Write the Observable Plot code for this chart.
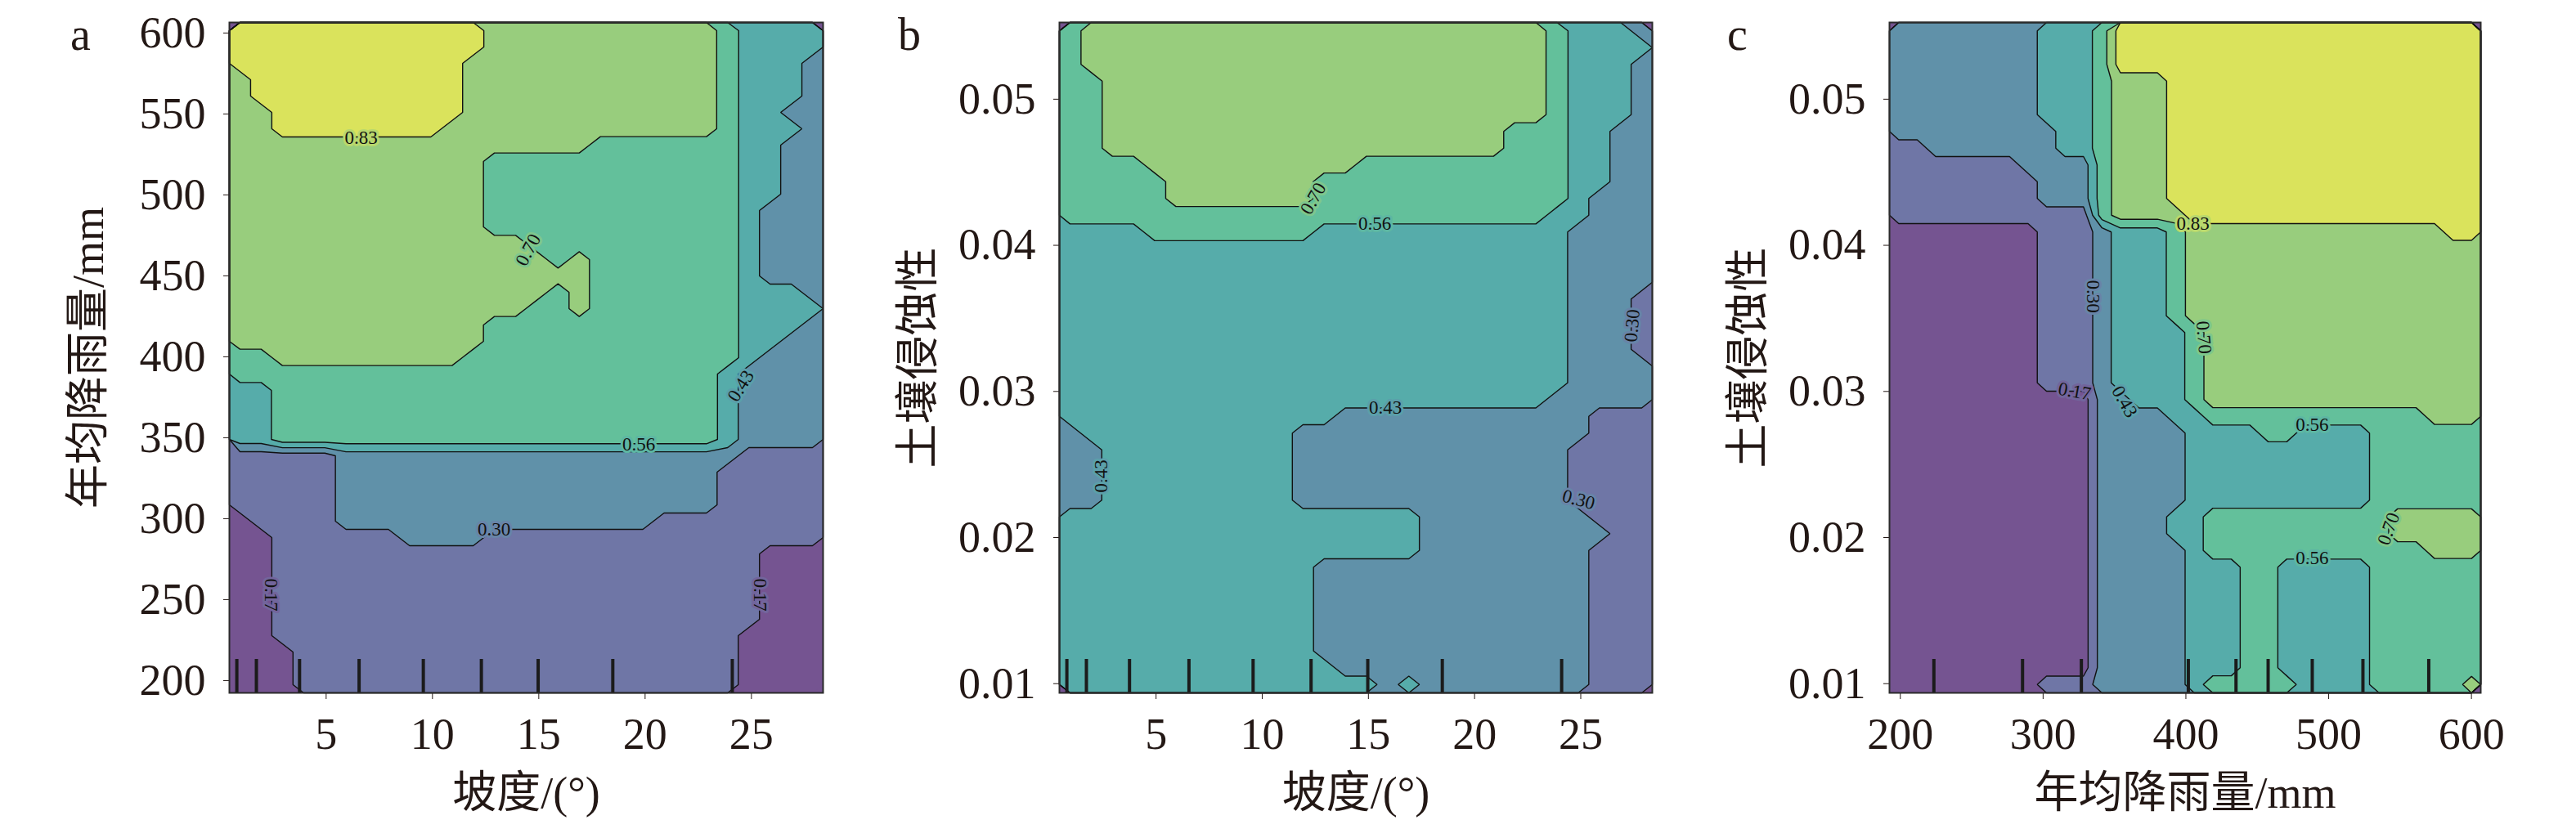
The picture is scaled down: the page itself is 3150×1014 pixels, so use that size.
<!DOCTYPE html>
<html><head><meta charset="utf-8">
<script src="https://cdn.jsdelivr.net/npm/d3@7"></script>
<script src="https://cdn.jsdelivr.net/npm/@observablehq/plot@0.6"></script>
<style>
body{margin:0;background:#fff;}
#wrap{position:relative;width:3150px;height:1014px;font-family:"Liberation Serif","Noto Sans CJK SC",serif;color:#231815;}
.panel{position:absolute;top:0;}
.tag{position:absolute;top:14px;font-size:56px;line-height:56px;}
.panel svg text{font-family:"Liberation Serif","Noto Sans CJK SC",serif;font-variant-numeric:normal;}
</style></head><body><div id="wrap"></div>
<script>
// contour levels (labels shown on the chart) and band fill values
const thresholds = [0, 0.17, 0.30, 0.43, 0.56, 0.70, 0.83];
const bandValues = [0.105, 0.235, 0.365, 0.495, 0.63, 0.765, 0.895];
const bandColors = ["#755491", "#6F76A6", "#6091A9", "#56ACAA", "#63C09B", "#98CD7D", "#DAE35C"];

// axis ranges and ticks
const slopeDomain = [0.45, 28.37];
const rainDomain = [192.4, 606.5];
const erodDomain = [0.00937, 0.05525];
const slopeTicks = [5, 10, 15, 20, 25];
const rainTicks = [200, 250, 300, 350, 400, 450, 500, 550, 600];
const rainTicksX = [200, 300, 400, 500, 600];
const erodTicks = [0.01, 0.02, 0.03, 0.04, 0.05];

// decile rug marks
const slopeDeciles = [0.8, 1.72, 3.75, 6.55, 9.57, 12.3, 14.97, 18.48, 24.1];
const rainDeciles = [223.5, 285.6, 326.8, 401.7, 435.1, 457.6, 488.5, 524, 570.1];

// panel a: slope (28 columns) x rainfall (41 rows, top = 606.5 mm); digits = band index
const gridSlopeRain = [
"666666666666 55555555555 4 3333",
"666666666666 55555555555 4 3333",
"66666666666 555555555555 4 333 2",
"5 6666666666 555555555555 4 333 2",
"5 6666666666 555555555555 4 333 2",
"55 666666666 555555555555 4 33 22",
"55 66666666 5555555555555 4 333 2",
"55555555555555555 4444444 33 22",
"555555555555 444444444444 33 22",
"555555555555 444444444444 33 22",
"555555555555 444444444444 33 22",
"555555555555 444444444444 3 222",
"555555555555 444444444444 3 222",
"55555555555555 4444444444 3 222",
"555555555555555 4 5 4444444 3 222",
"55555555555555555 4444444 3 222",
"555555555555555 4 5 4444444 333 2",
"55555555555555 44 5 4444444 3333",
"555555555555 444444444444 333 2",
"555555555555 444444444444 33 22",
"44 555555555 4444444444444 3 222",
"44444444444444444444444 3 2222",
"33 444444444444444444444 3 2222",
"33 444444444444444444444 3 2222",
"33 444444444444444444444 3 2222",
"33 444444444444444444444 3 2222",
"11111 2222222222222222222 1111",
"11111 222222222222222222 11111",
"11111 222222222222222222 11111",
"11111 222222222222222222 11111",
"0 1111 222222222222222 11111111",
"00 111111 2222 1111111111111111",
"00 11111111111111111111111 000",
"00 11111111111111111111111 000",
"00 11111111111111111111111 000",
"00 11111111111111111111111 000",
"00 11111111111111111111111 000",
"00 1111111111111111111111 0000",
"000 111111111111111111111 0000",
"000 111111111111111111111 0000",
"000 111111111111111111111 0000"
];

// panel b: slope (28 columns) x soil erodibility (40 rows, top = 0.05525)
const gridSlopeErod = [
"4 5555555555555555555555 4 333 2",
"4 5555555555555555555555 4 3333",
"4 5555555555555555555555 4 333 2",
"44 555555555555555555555 4 333 2",
"44 555555555555555555555 4 333 2",
"44 555555555555555555555 4 333 2",
"44 5555555555555555555 444 33 22",
"44 5555555555555555555 444 33 22",
"4444 5555555555 4444444444 33 22",
"44444 5555555 444444444444 33 22",
"44444 5555555 444444444444 3 222",
"44444444444444444444444 33 222",
"3333 44444444 333333333333 2222",
"333333333333333333333333 2222",
"333333333333333333333333 2222",
"333333333333333333333333 2222",
"333333333333333333333333 222 1",
"333333333333333333333333 222 1",
"333333333333333333333333 222 1",
"333333333333333333333333 222 1",
"333333333333333333333333 2222",
"333333333333333333333333 2222",
"33333333333333333333333 22222",
"3333333333333 222222222222 111",
"2 3333333333 22222222222222 111",
"22 333333333 2222222222222 1111",
"22 333333333 2222222222222 1111",
"22 333333333 2222222222222 1111",
"22 333333333 2222222222222 1111",
"33333333333333333 22222222 111",
"33333333333333333 222222222 11",
"33333333333333333 22222222 111",
"333333333333 2222222222222 111",
"333333333333 2222222222222 111",
"333333333333 2222222222222 111",
"333333333333 2222222222222 111",
"333333333333 2222222222222 111",
"333333333333 2222222222222 111",
"3333333333333 222222222222 111",
"333333333333333 2 3 22222222 111"
];

// panel c: rainfall (32 columns) x soil erodibility (40 rows, top = 0.05525)
const gridRainErod = [
"22222222 333 4 66666666666666666666",
"22222222 333 4 66666666666666666666",
"22222222 333 4 66666666666666666666",
"22222222 333 4 555 66666666666666666",
"22222222 333 4 555 66666666666666666",
"22222222 333 4 555 66666666666666666",
"222222222 33 4 555 66666666666666666",
"11 2222222 33 4 555 66666666666666666",
"1111111 2222 4 555 66666666666666666",
"11111111 222 4 555 66666666666666666",
"11111111 222 4 555 66666666666666666",
"11111111111 4 5555 6666666666666666",
"00000000 111 2 333 4 55555555555555 66",
"00000000 111 2 333 4 5555555555555555",
"00000000 111 2 333 4 5555555555555555",
"00000000 111 2 333 4 5555555555555555",
"00000000 111 2 333 4 5555555555555555",
"00000000 111 2 333 4 5555555555555555",
"00000000 111 2 3333 4 555555555555555",
"00000000 111 2 3333 4 555555555555555",
"00000000 111 2 3333 4 555555555555555",
"00000000 111 2 3333 4 555555555555555",
"00000000000 22 333 4 555555555555555",
"00000000000 2222 33 444444444444 555",
"00000000000 22222 3333 44 3333 444444",
"00000000000 22222 3333333333 444444",
"00000000000 22222 3333333333 444444",
"00000000000 22222 3333333333 444444",
"00000000000 22222 3333333333 444444",
"00000000000 2222 33 4444444444 55555",
"00000000000 2222 33 4444444444 55555",
"00000000000 22222 3 444444444444 555",
"00000000000 22222 333 44 33333 444444",
"00000000000 22222 333 44 33333 444444",
"00000000000 22222 333 44 33333 444444",
"00000000000 22222 333 44 33333 444444",
"00000000000 22222 333 44 33333 444444",
"00000000000 22222 333 44 33333 444444",
"00000000000 22222 333 44 33333 444444",
"00000000 111 22222 3 44444 3333 44444 5"
];

// inline contour labels (data coordinates, angle in degrees)
const labelsA = [
  {x: 6.65, y: 535, t: "0.83", a: 0},
  {x: 14.5, y: 466, t: "0.70", a: -62},
  {x: 24.5, y: 382, t: "0.43", a: -58},
  {x: 19.7, y: 346, t: "0.56", a: 0},
  {x: 12.9, y: 293.5, t: "0.30", a: 0},
  {x: 2.4, y: 253, t: "0.17", a: 90},
  {x: 25.4, y: 253, t: "0.17", a: 90}
];
const labelsB = [
  {x: 12.4, y: 0.0432, t: "0.70", a: -60},
  {x: 15.3, y: 0.0415, t: "0.56", a: 0},
  {x: 15.8, y: 0.0289, t: "0.43", a: 0},
  {x: 2.42, y: 0.0242, t: "0.43", a: -90},
  {x: 27.42, y: 0.0345, t: "0.30", a: -85},
  {x: 24.9, y: 0.0226, t: "0.30", a: 15}
];
const labelsC = [
  {x: 405, y: 0.0415, t: "0.83", a: 0},
  {x: 335, y: 0.0365, t: "0.30", a: 90},
  {x: 412.5, y: 0.0337, t: "0.70", a: 85},
  {x: 322, y: 0.0300, t: "0.17", a: 10},
  {x: 357, y: 0.0293, t: "0.43", a: 60},
  {x: 488.5, y: 0.0277, t: "0.56", a: 0},
  {x: 542, y: 0.0206, t: "0.70", a: -70},
  {x: 488.5, y: 0.0186, t: "0.56", a: 0}
];

const ink = "#231815";
const serif = "Liberation Serif, Noto Sans CJK SC, serif";
const fmt2 = d3.format(".2f");

function toValues(grid, width) {
  const rows = grid.map(r => r.replace(/\s+/g, ""));
  rows.forEach((r, i) => { if (r.length !== width) console.warn("row", i, r.length); });
  return rows.flatMap(r => Array.from({length: width}, (_, j) => bandValues[+(r[j] ?? r[r.length - 1])]));
}

function halo(t) {
  const k = thresholds.indexOf(+t);
  return d3.interpolateRgb(bandColors[k - 1], bandColors[k])(0.5);
}

function panel(o) {
  const h = o.grid.length, w = o.cols;
  const values = toValues(o.grid, w);
  const [y0, y1] = o.yDomain;
  const geo = {width: w, height: h, x1: o.xDomain[0], x2: o.xDomain[1], y1: y1, y2: y0};
  return Plot.plot({
    width: 1050, height: 1014,
    marginTop: 27, marginBottom: 167, marginLeft: o.marginLeft, marginRight: o.marginRight,
    x: {domain: o.xDomain},
    y: {domain: o.yDomain},
    color: {type: "ordinal", domain: thresholds, range: bandColors},
    style: {fontFamily: serif, color: ink, background: "transparent", overflow: "visible"},
    marks: [
      Plot.frame({fill: bandColors[0]}),
      Plot.contour(values, {...geo, thresholds, fill: Plot.identity}),
      Plot.contour(values, {...geo, thresholds: thresholds.slice(1), fill: "none", stroke: "#111", strokeWidth: 1.4}),
      Plot.ruleX(o.deciles, {x: d => d, y1: y0, y2: y0 + 0.05 * (y1 - y0), stroke: "#1b1b1b", strokeWidth: 4}),
      ...o.labels.map(l => Plot.text([l], {x: "x", y: "y", text: "t", rotate: l.a, fontSize: 23, fill: "#111",
        stroke: halo(l.t), strokeWidth: 6, fontFamily: serif})),
      Plot.axisX({ticks: o.xTicks, tickSize: 8, tickPadding: 22, fontSize: 54, fontFamily: serif, label: o.xLabel,
        labelAnchor: "center", labelOffset: 140, labelArrow: "none"}),
      Plot.axisY({ticks: o.yTicks, tickSize: 7, tickPadding: 22, fontSize: 54, fontFamily: serif, tickFormat: o.yFormat, label: o.yLabel,
        labelAnchor: "center", labelOffset: 193, labelArrow: "none"}),
      Plot.frame({stroke: "#2b2b2b", strokeWidth: 2})
    ]
  });
}

const specs = [
  {left: 0, tag: "a", tagLeft: 86, grid: gridSlopeRain, cols: 28, xDomain: slopeDomain, yDomain: rainDomain,
   xTicks: slopeTicks, yTicks: rainTicks, yFormat: d3.format("d"), xLabel: "坡度/(°)", yLabel: "年均降雨量/mm",
   deciles: slopeDeciles, labels: labelsA, marginLeft: 280, marginRight: 44},
  {left: 1050, tag: "b", tagLeft: 1098, grid: gridSlopeErod, cols: 28, xDomain: slopeDomain, yDomain: erodDomain,
   xTicks: slopeTicks, yTicks: erodTicks, yFormat: fmt2, xLabel: "坡度/(°)", yLabel: "土壤侵蚀性",
   deciles: slopeDeciles, labels: labelsB, marginLeft: 245, marginRight: 80},
  {left: 2100, tag: "c", tagLeft: 2112, grid: gridRainErod, cols: 32, xDomain: rainDomain, yDomain: erodDomain,
   xTicks: rainTicksX, yTicks: erodTicks, yFormat: fmt2, xLabel: "年均降雨量/mm", yLabel: "土壤侵蚀性",
   deciles: rainDeciles, labels: labelsC, marginLeft: 210, marginRight: 117}
];

const wrap = document.getElementById("wrap");
for (const s of specs) {
  const div = document.createElement("div");
  div.className = "panel";
  div.style.left = s.left + "px";
  div.appendChild(panel(s));
  wrap.appendChild(div);
  const tag = document.createElement("div");
  tag.className = "tag";
  tag.style.left = s.tagLeft + "px";
  tag.textContent = s.tag;
  wrap.appendChild(tag);
}
</script>
</body></html>
